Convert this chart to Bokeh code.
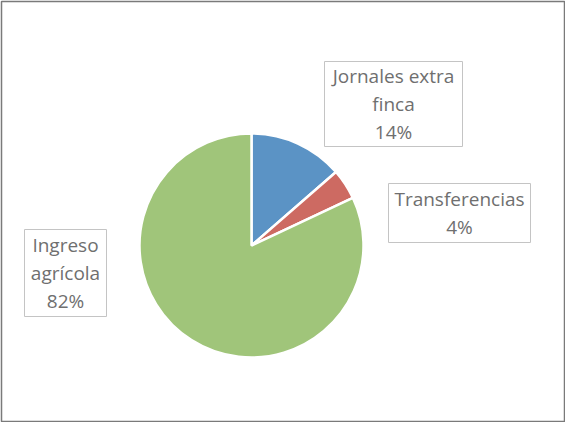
import math

from bokeh.core.properties import value
from bokeh.embed import file_html
from bokeh.models import ColumnDataSource, Range1d
from bokeh.plotting import figure
from bokeh.resources import INLINE

# data (clockwise from 12 o'clock)
names = ["Jornales extra\nfinca", "Transferencias", "Ingreso\nagrícola"]
shares = [13.6, 4.4, 82.0]
colors = ["#5B93C5", "#CD6A62", "#A0C57A"]

# layout: label boxes (left, right, bottom, top) in plot pixels
boxes = [(323, 461, 275, 360), (387, 529, 179, 238), (23, 105, 105, 192)]
cx, cy, radius = 250, 176, 112

total = sum(shares)
starts, ends = [], []
acc = 0.0
for s in shares:
    starts.append(math.pi / 2 - 2 * math.pi * acc / total)
    acc += s
    ends.append(math.pi / 2 - 2 * math.pi * acc / total)

src = ColumnDataSource(dict(start=starts, end=ends, color=colors))

labels = [f"{n}\n{round(100 * s / total)}%" for n, s in zip(names, shares)]
box_src = ColumnDataSource(dict(
    left=[b[0] for b in boxes], right=[b[1] for b in boxes],
    bottom=[b[2] for b in boxes], top=[b[3] for b in boxes],
    x=[(b[0] + b[1]) / 2 for b in boxes], y=[(b[2] + b[3]) / 2 for b in boxes],
    text=labels,
))

p = figure(width=565, height=422, output_backend="svg", toolbar_location=None,
           tools="", x_range=Range1d(0, 563), y_range=Range1d(0, 420),
           min_border=1)
p.axis.visible = False
p.grid.visible = False
p.outline_line_color = "#7A7A7A"
p.outline_line_width = 1.5
p.background_fill_color = "white"
p.border_fill_color = "white"

p.wedge(x=cx, y=cy, radius=radius, start_angle="start", end_angle="end",
        direction="clock", fill_color="color", line_color="white",
        line_width=2.5, source=src)

p.quad(left="left", right="right", bottom="bottom", top="top",
       fill_color="white", line_color="#C4C4C4", line_width=1, source=box_src)
p.text(x="x", y="y", text="text", source=box_src,
       text_font=value("Open Sans"), text_font_size="19px",
       text_color="#6F6F6F", text_align="center", text_baseline="middle",
       text_line_height=1.06)

open("out.html", "w").write(file_html(p, INLINE))
